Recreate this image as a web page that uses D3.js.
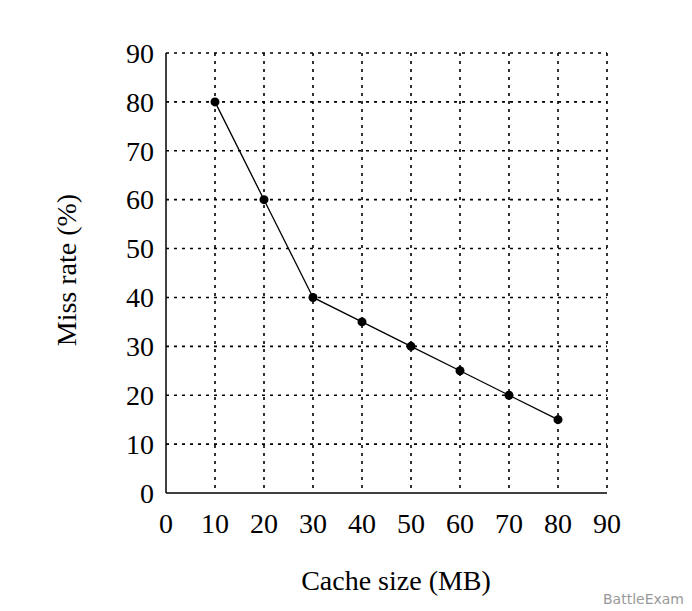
<!DOCTYPE html>
<html><head><meta charset="utf-8">
<script src="https://cdn.jsdelivr.net/npm/d3@7"></script>
<style>body{margin:0;background:#fff}</style>
</head><body><div id="chart"></div>
<script>
var cacheSize = [10, 20, 30, 40, 50, 60, 70, 80];
var missRate = [80, 60, 40, 35, 30, 25, 20, 15];
var xTicks = [0, 10, 20, 30, 40, 50, 60, 70, 80, 90];
var yTicks = [0, 10, 20, 30, 40, 50, 60, 70, 80, 90];

var width = 692, height = 611,
    mLeft = 166, mRight = 607, mTop = 53, mBottom = 493;

var svg = d3.select("#chart").append("svg")
  .attr("width", width).attr("height", height)
  .style("font-family", "'Liberation Serif', 'DejaVu Serif', serif");

var x = d3.scaleLinear().domain([0, 90]).range([mLeft, mRight]);
var y = d3.scaleLinear().domain([0, 90]).range([mBottom, mTop]);

// dotted grid
svg.append("g").selectAll("line").data(xTicks.slice(1)).enter().append("line")
  .attr("x1", function(d) { return x(d); }).attr("x2", function(d) { return x(d); })
  .attr("y1", mTop).attr("y2", mBottom)
  .attr("stroke", "#000").attr("stroke-width", 1.6).attr("stroke-dasharray", "3,5");
svg.append("g").selectAll("line").data(yTicks.slice(1)).enter().append("line")
  .attr("y1", function(d) { return y(d); }).attr("y2", function(d) { return y(d); })
  .attr("x1", mLeft).attr("x2", mRight)
  .attr("stroke", "#000").attr("stroke-width", 1.6).attr("stroke-dasharray", "3,5");

// solid axes
svg.append("line").attr("x1", mLeft).attr("x2", mLeft).attr("y1", mTop).attr("y2", mBottom)
  .attr("stroke", "#000").attr("stroke-width", 1.5);
svg.append("line").attr("x1", mLeft).attr("x2", mRight).attr("y1", mBottom).attr("y2", mBottom)
  .attr("stroke", "#000").attr("stroke-width", 1.5);

// tick labels
svg.append("g").selectAll("text").data(yTicks).enter().append("text")
  .attr("x", mLeft - 12).attr("y", function(d) { return y(d); })
  .attr("dy", "0.35em").attr("text-anchor", "end")
  .attr("font-size", 28).text(function(d) { return d; });
svg.append("g").selectAll("text").data(xTicks).enter().append("text")
  .attr("x", function(d) { return x(d); }).attr("y", mBottom + 40)
  .attr("text-anchor", "middle")
  .attr("font-size", 28).text(function(d) { return d; });

// axis titles
svg.append("text").attr("x", 396).attr("y", 590).attr("text-anchor", "middle")
  .attr("font-size", 28).text("Cache size (MB)");
svg.append("text").attr("transform", "translate(76,270) rotate(-90)")
  .attr("text-anchor", "middle").attr("font-size", 28).text("Miss rate (%)");

// line and points
var pts = cacheSize.map(function(c, i) { return [c, missRate[i]]; });
svg.append("path").datum(pts)
  .attr("fill", "none").attr("stroke", "#000").attr("stroke-width", 1.3)
  .attr("d", d3.line().x(function(d) { return x(d[0]); }).y(function(d) { return y(d[1]); }));
svg.append("g").selectAll("circle").data(pts).enter().append("circle")
  .attr("cx", function(d) { return x(d[0]); }).attr("cy", function(d) { return y(d[1]); })
  .attr("r", 4.5).attr("fill", "#000");

svg.append("text").attr("x", 684).attr("y", 604).attr("text-anchor", "end")
  .attr("font-family", "'DejaVu Sans', sans-serif").attr("font-size", 14)
  .attr("fill", "#999").text("BattleExam");
</script></body></html>
